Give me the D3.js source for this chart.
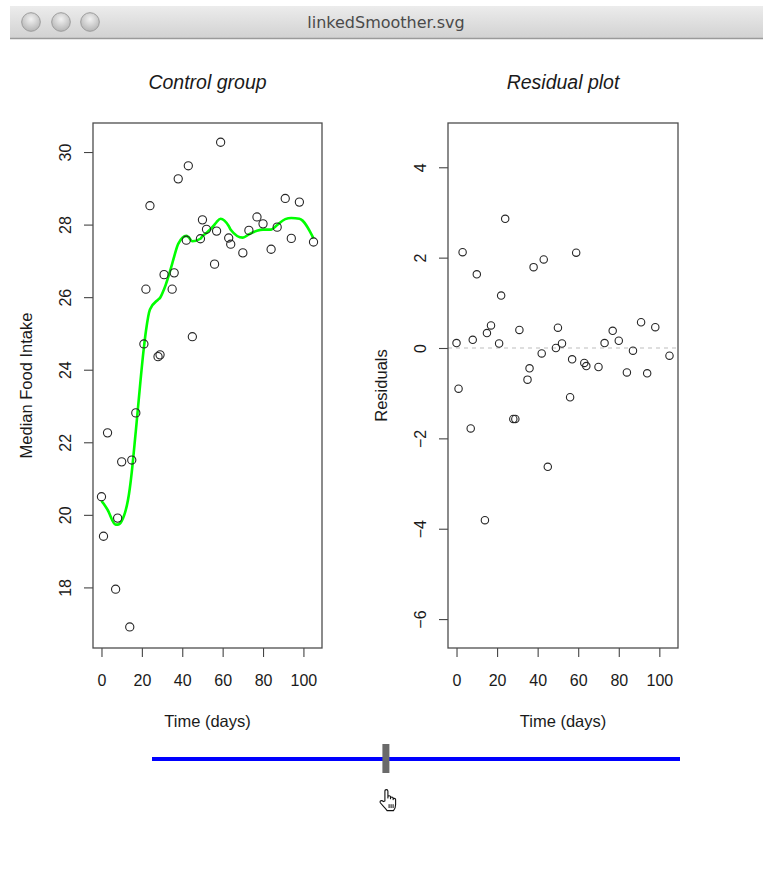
<!DOCTYPE html>
<html>
<head>
<meta charset="utf-8">
<script src="https://cdn.jsdelivr.net/npm/d3@7"></script>
<style>
  html, body { margin: 0; padding: 0; background: #fff; }
  svg { display: block; }
  text { font-family: "Liberation Sans", Arial, Helvetica, sans-serif; fill: #1a1a1a; }
</style>
</head>
<body>
<script>
// ---- data ----
const windowTitle = "linkedSmoother.svg";
const leftTitle = "Control group";
const rightTitle = "Residual plot";
const xLabel = "Time (days)";
const leftYLabel = "Median Food Intake";
const rightYLabel = "Residuals";

const days = [0,1,3,7,8,10,14,15,17,21,22,24,28,29,31,35,36,38,42,43,45,49,50,52,56,57,59,63,64,70,73,77,80,84,87,91,94,98,105];
const intake = [20.50,19.41,22.26,17.95,19.91,21.46,16.91,21.51,22.81,24.71,26.22,28.52,24.36,24.41,26.62,26.22,26.67,29.26,27.57,29.62,24.91,27.61,28.13,27.87,26.91,27.82,30.27,27.63,27.46,27.22,27.84,28.21,28.02,27.32,27.93,28.72,27.62,28.62,27.52];
const fitted = [20.39,20.31,20.14,19.73,19.73,19.83,20.72,21.18,22.31,24.61,25.06,25.66,25.93,25.98,26.22,26.92,27.12,27.47,27.69,27.66,27.54,27.61,27.68,27.77,28.00,28.07,28.16,27.96,27.86,27.64,27.73,27.83,27.86,27.86,27.99,28.15,28.18,28.16,27.62];
const residuals = [0.11,-0.90,2.12,-1.78,0.18,1.63,-3.81,0.33,0.50,0.10,1.16,2.86,-1.57,-1.57,0.40,-0.70,-0.45,1.79,-0.12,1.96,-2.63,0.00,0.45,0.10,-1.09,-0.25,2.11,-0.33,-0.40,-0.42,0.11,0.38,0.16,-0.54,-0.06,0.57,-0.56,0.46,-0.17];

const xTicks = [0,20,40,60,80,100];
const leftYTicks = [18,20,22,24,26,28,30];
const rightYTicks = [-6,-4,-2,0,2,4];
const sliderDomain = [0, 1];
const sliderValue = 0.443;

// ---- drawing ----
const W = 763, H = 893;
const svg = d3.select("body").append("svg").attr("width", W).attr("height", H);

// window chrome
const defs = svg.append("defs");
const g1 = defs.append("linearGradient").attr("id","bar").attr("x1",0).attr("x2",0).attr("y1",0).attr("y2",1);
g1.append("stop").attr("offset","0%").attr("stop-color","#ececec");
g1.append("stop").attr("offset","100%").attr("stop-color","#d2d2d2");
const g2 = defs.append("radialGradient").attr("id","btn").attr("cx","50%").attr("cy","35%").attr("r","60%");
g2.append("stop").attr("offset","0%").attr("stop-color","#f2f2f2");
g2.append("stop").attr("offset","100%").attr("stop-color","#b9b9b9");

svg.append("rect").attr("x",10).attr("y",6).attr("width",W-10).attr("height",32).attr("fill","url(#bar)");
svg.append("line").attr("x1",10).attr("x2",W).attr("y1",38.5).attr("y2",38.5).attr("stroke","#9a9a9a").attr("stroke-width",1.5);
[31,61,90].forEach(cx => {
  svg.append("circle").attr("cx",cx).attr("cy",22).attr("r",9.3)
    .attr("fill","url(#btn)").attr("stroke","#9c9c9c").attr("stroke-width",1);
});
svg.append("text").attr("x",386).attr("y",27.5).attr("text-anchor","middle")
  .style("font-family","'DejaVu Sans', 'Noto Sans', sans-serif").style("font-size","16px").style("fill","#4a4a4a")
  .text(windowTitle);

// shared x domain
const xDomain = [-4.2, 109.2];
const plotTop = 123, plotBottom = 648;

function panel(opts) {
  const x = d3.scaleLinear().domain(xDomain).range([opts.left, opts.right]);
  const y = d3.scaleLinear().domain(opts.yDomain).range([plotBottom, plotTop]);
  const g = svg.append("g");

  if (opts.zeroLine) {
    g.append("line").attr("x1",opts.left).attr("x2",opts.right)
      .attr("y1",y(0)).attr("y2",y(0))
      .attr("stroke","#d4d4d4").attr("stroke-width",1.6).attr("stroke-dasharray","4,4");
  }

  // x axis
  const xa = g.append("g").attr("transform",`translate(0,${plotBottom})`)
    .call(d3.axisBottom(x).tickValues(xTicks).tickSize(9).tickSizeOuter(0));
  xa.select(".domain").remove();
  xa.selectAll(".tick line").attr("stroke","#444").attr("stroke-width",1.1);
  xa.selectAll(".tick text").attr("y",27).attr("dy","0.71em")
    .style("font-size","16px").style("font-family","'Liberation Sans', Arial, sans-serif").attr("fill","#1a1a1a");

  // y axis
  const ya = g.append("g").attr("transform",`translate(${opts.left},0)`)
    .call(d3.axisLeft(y).tickValues(opts.yTicks).tickSize(9).tickSizeOuter(0));
  ya.select(".domain").remove();
  ya.selectAll(".tick line").attr("stroke","#444").attr("stroke-width",1.1);
  ya.selectAll(".tick text").attr("x",0).attr("y",0).attr("dy","0.36em")
    .attr("text-anchor","middle").attr("transform","translate(-28,0) rotate(-90)")
    .style("font-size","16px").style("font-family","'Liberation Sans', Arial, sans-serif").attr("fill","#1a1a1a");

  // box
  g.append("rect").attr("x",opts.left).attr("y",plotTop)
    .attr("width",opts.right-opts.left).attr("height",plotBottom-plotTop)
    .attr("fill","none").attr("stroke","#4d4d4d").attr("stroke-width",1.3);

  // smoother
  if (opts.fit) {
    const line = d3.line().x((d,i) => x(days[i])).y(d => y(d)).curve(d3.curveMonotoneX);
    g.append("path").datum(opts.fit).attr("d", line)
      .attr("fill","none").attr("stroke","#00ff00").attr("stroke-width",2.6);
  }

  // points
  g.selectAll("circle.pt").data(opts.values).join("circle").attr("class","pt")
    .attr("cx",(d,i) => x(days[i])).attr("cy", d => y(d)).attr("r", opts.r)
    .attr("fill","none").attr("stroke","#262626").attr("stroke-width",1.1);

  // titles
  const cx = (opts.left + opts.right)/2;
  g.append("text").attr("x",cx).attr("y",89).attr("text-anchor","middle")
    .style("font-size","19.5px").style("font-style","italic").text(opts.title);
  g.append("text").attr("x",cx).attr("y",727).attr("text-anchor","middle")
    .style("font-size","16.5px").text(xLabel);
  g.append("text").attr("transform",`translate(${opts.left-61},${(plotTop+plotBottom)/2}) rotate(-90)`)
    .attr("text-anchor","middle").style("font-size","16.5px").text(opts.ylabel);
}

panel({left:93, right:322, yDomain:[16.33,30.8], yTicks:leftYTicks, values:intake, fit:fitted,
       r:4.1, title:leftTitle, ylabel:leftYLabel});
panel({left:448, right:678, yDomain:[-6.64,4.98], yTicks:rightYTicks, values:residuals, zeroLine:true,
       r:3.7, title:rightTitle, ylabel:rightYLabel});

// slider
const sx = d3.scaleLinear().domain(sliderDomain).range([152, 680]);
svg.append("line").attr("x1",sx(sliderDomain[0])).attr("x2",sx(sliderDomain[1]))
  .attr("y1",759).attr("y2",759).attr("stroke","#0000ff").attr("stroke-width",4);
svg.append("rect").attr("x",sx(sliderValue)-3.5).attr("y",744).attr("width",7).attr("height",29)
  .attr("fill","#6a6a6a");

// hand cursor
const hand = svg.append("g").attr("transform",`translate(${sx(sliderValue)-7},789)`);
hand.append("path")
  .attr("d","M6,12 L6,2.2 Q6,0.6 7.5,0.6 Q9,0.6 9,2.2 L9,9 L9,7.8 Q9,6.7 10.3,6.7 Q11.6,6.7 11.6,7.8 L11.6,9.8 L11.6,9 Q11.6,8 12.9,8 Q14.2,8 14.2,9 L14.2,10.6 L14.2,10.3 Q14.2,9.4 15.4,9.4 Q16.7,9.4 16.7,10.5 L16.7,15.5 Q16.7,19.2 14.6,21.6 L8.2,21.6 Q6.8,19.6 4.8,17.6 L1.6,14 Q0.6,12.5 1.9,11.8 Q3.1,11.2 4.6,12.6 Z")
  .attr("fill","#fff").attr("stroke","#111").attr("stroke-width",1.1).attr("stroke-linejoin","round");
[10.2,12.2,14.2].forEach(px => {
  hand.append("line").attr("x1",px).attr("x2",px).attr("y1",15.2).attr("y2",19)
    .attr("stroke","#111").attr("stroke-width",1);
});
</script>
</body>
</html>
